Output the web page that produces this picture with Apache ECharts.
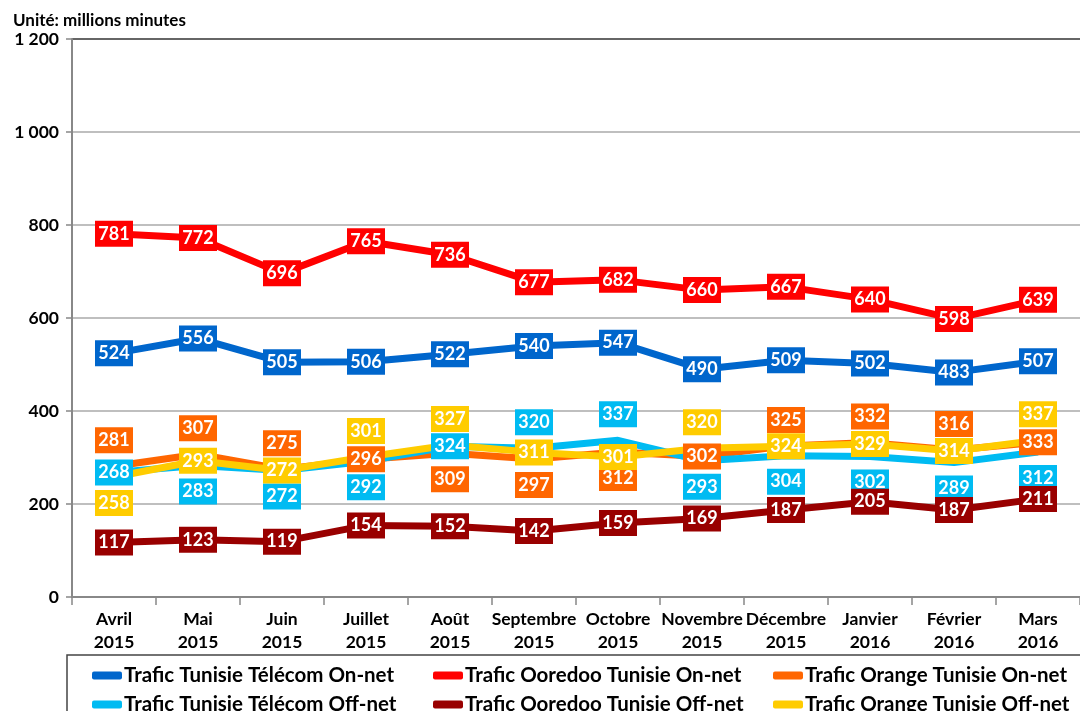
<!DOCTYPE html>
<html><head><meta charset="utf-8">
<script src="https://cdn.jsdelivr.net/npm/echarts@6/dist/echarts.min.js"></script>
<style>html,body{margin:0;padding:0;background:#fff}#c{width:1080px;height:711px}</style>
</head><body><div id="c"></div>
<script>
const categories = ['Avril\n2015','Mai\n2015','Juin\n2015','Juillet\n2015','Août\n2015','Septembre\n2015','Octobre\n2015','Novembre\n2015','Décembre\n2015','Janvier\n2016','Février\n2016','Mars\n2016'];
const ttOnNet      = [524,556,505,506,522,540,547,490,509,502,483,507];
const ooredooOnNet = [781,772,696,765,736,677,682,660,667,640,598,639];
const orangeOnNet  = [281,307,275,296,309,297,312,302,325,332,316,333];
const ttOffNet     = [268,283,272,292,324,320,337,293,304,302,289,312];
const ooredooOffNet= [117,123,119,154,152,142,159,169,187,205,187,211];
const orangeOffNet = [258,293,272,301,327,311,301,320,324,329,314,337];
const seriesNames = ['Trafic Tunisie Télécom On-net','Trafic Ooredoo Tunisie On-net','Trafic Orange Tunisie On-net','Trafic Tunisie Télécom Off-net','Trafic Ooredoo Tunisie Off-net','Trafic Orange Tunisie Off-net'];

// label placement styles (t = above, c = centred, b = below)
const placeOrangeOn  = ['t','t','t','c','b','b','b','c','t','t','t','c'];
const placeTTOff     = ['c','b','b','b','c','t','t','b','b','b','b','b'];
const placeOrangeOff = ['b','c','c','t','t','c','c','t','c','c','c','t'];

const colors = ['#0066CC','#FF0000','#FF6600','#00BBF2','#990000','#FFCC00'];
const FONT = 'Lato,"Open Sans",sans-serif';
const SHIFT = 26;

function mk(name, vals, color, place){
  return {
    name, type:'line', data: vals.map((v,i)=>{
      const p = place ? place[i] : 'c';
      return {value:v, label:{offset:[0, p==='t'?-SHIFT:(p==='b'?SHIFT:0)]}};
    }),
    symbol:'circle', symbolSize:2, showSymbol:true, itemStyle:{color},
    lineStyle:{color, width:7}, color,
    label:{show:true, position:'inside', color:'#fff', fontWeight:'bold', fontSize:18,
      fontFamily:FONT, backgroundColor:color, padding:[3,5,2,5], lineHeight:21, width:28, align:'center'},
    emphasis:{disabled:true}, animation:false
  };
}

const allData=[ttOnNet,ooredooOnNet,orangeOnNet,ttOffNet,ooredooOffNet,orangeOffNet];
const places=[null,null,placeOrangeOn,placeTTOff,null,placeOrangeOff];
const series = seriesNames.map((n,i)=>mk(n,allData[i],colors[i],places[i]));

const legCols=[87,428,768], legRows=[660,689];
const legends = seriesNames.map((n,i)=>({
  data:[{name:n}], left:legCols[i%3], top:legRows[Math.floor(i/3)],
  icon:'roundRect', itemWidth:30, itemHeight:8, selectedMode:false,
  textStyle:{fontFamily:FONT, fontWeight:'bold', fontSize:20.5, color:'#000', padding:[0,0,0,-3]}
}));

const chart = echarts.init(document.getElementById('c'), null, {renderer:'canvas'});
chart.setOption({
  backgroundColor:'#fff',
  animation:false,
  title:{text:'Unité: millions minutes', left:8, top:7,
    textStyle:{fontFamily:FONT, fontWeight:'bold', fontSize:17, color:'#000'}},
  grid:{left:72, top:39, width:1013, height:558},
  xAxis:{type:'category', data:categories, boundaryGap:true,
    axisLine:{lineStyle:{color:'#888', width:2}},
    axisTick:{show:true, alignWithLabel:false, length:8, lineStyle:{color:'#888', width:1.5}},
    axisLabel:{color:'#000', fontFamily:FONT, fontWeight:'bold', fontSize:17.5, lineHeight:23, margin:11, interval:0}},
  yAxis:{type:'value', min:0, max:1200, interval:200,
    axisLine:{show:true, lineStyle:{color:'#888', width:2}},
    axisTick:{show:true, length:6, lineStyle:{color:'#888', width:1.5}},
    splitLine:{lineStyle:{color:['#aaa','#aaa','#aaa','#aaa','#aaa','#aaa','#333'], width:1.5}},
    axisLabel:{color:'#000', fontFamily:FONT, fontWeight:'bold', fontSize:17.5, margin:13,
      formatter:v=> v>=1000 ? String(v).replace(/(\d)(\d{3})$/,'$1 $2') : String(v)}},
  legend: legends,
  graphic:[{type:'rect', shape:{x:67, y:655, width:1040, height:80}, style:{fill:'none', stroke:'#444', lineWidth:1.5}, silent:true, z:-1}],
  series
});
</script></body></html>
